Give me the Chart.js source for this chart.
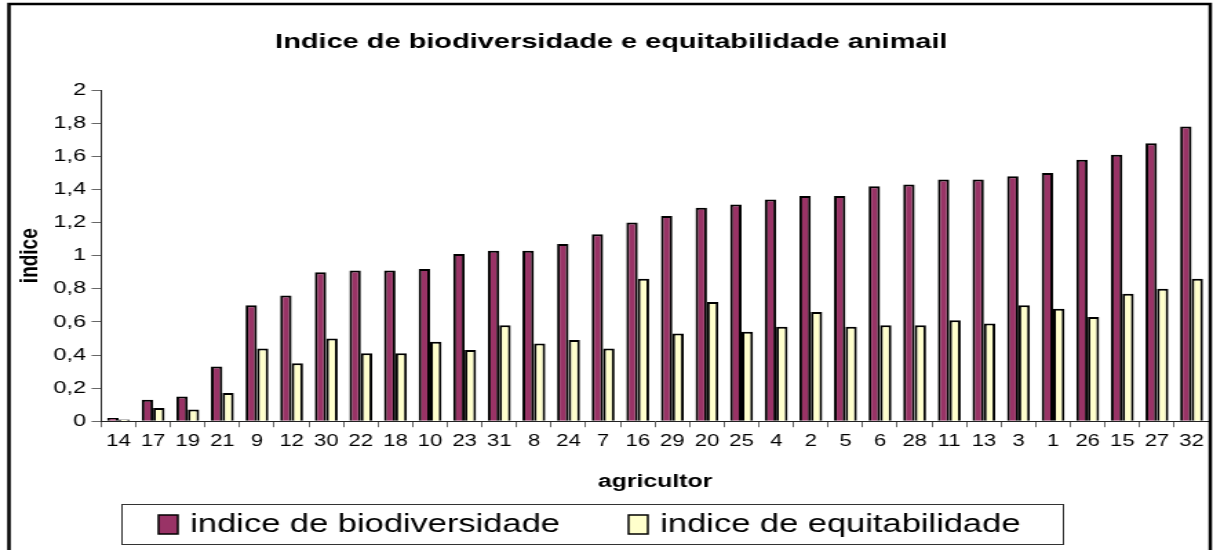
<!DOCTYPE html>
<html>
<head>
<meta charset="utf-8">
<script src="https://cdn.jsdelivr.net/npm/chart.js@4"></script>
<style>
    body { margin: 0; background: #fff; overflow: hidden; }
    /* the reference image is stretched horizontally, so draw narrow and stretch */
    #wrap { width: 880px; height: 550px; transform: scaleX(1.3784); transform-origin: 0 0; }
</style>
</head>
<body>
<div id="wrap"><canvas id="biodivChart" width="880" height="550"></canvas></div>
<script>
// agricultores, ordenados pelo indice de biodiversidade
const agricultores = ['14', '17', '19', '21', '9', '12', '30', '22', '18', '10', '23', '31', '8', '24', '7', '16',
    '29', '20', '25', '4', '2', '5', '6', '28', '11', '13', '3', '1', '26', '15', '27', '32'];

const biodiversidade = [0.02, 0.13, 0.15, 0.33, 0.70, 0.76, 0.90, 0.91, 0.91, 0.92, 1.01, 1.03, 1.03, 1.07, 1.13, 1.20,
    1.24, 1.29, 1.31, 1.34, 1.36, 1.36, 1.42, 1.43, 1.46, 1.46, 1.48, 1.50, 1.58, 1.61, 1.68, 1.78];

const equitabilidade = [0.01, 0.08, 0.07, 0.17, 0.44, 0.35, 0.50, 0.41, 0.41, 0.48, 0.43, 0.58, 0.47, 0.49, 0.44, 0.86,
    0.53, 0.72, 0.54, 0.57, 0.66, 0.57, 0.58, 0.58, 0.61, 0.59, 0.70, 0.68, 0.63, 0.77, 0.80, 0.86];

const yTicks = [0, 0.2, 0.4, 0.6, 0.8, 1, 1.2, 1.4, 1.6, 1.8, 2];

const FONT = 'Arial, "Liberation Sans", sans-serif';

// moldura externa + legenda em caixa (desenhada a mao, como no Excel)
const framePlugin = {
    id: 'framePlugin',
    afterDraw(chart) {
        const c = chart.ctx;
        c.save();
        c.strokeStyle = '#000';
        c.lineWidth = 2.5;
        c.strokeRect(6.5, 4, 871.5, 570);

        // legend box
        c.lineWidth = 1;
        c.strokeStyle = '#333';
        c.strokeRect(88.5, 504.5, 683, 40);

        const items = [
            { x: 115, textX: 138 },
            { x: 456, textX: 479 }
        ];
        c.font = '25px ' + FONT;
        c.textBaseline = 'middle';
        c.textAlign = 'left';
        chart.data.datasets.forEach((ds, i) => {
            const it = items[i];
            c.fillStyle = ds.backgroundColor;
            c.fillRect(it.x, 515, 14, 19);
            c.lineWidth = 1.5;
            c.strokeStyle = '#000';
            c.strokeRect(it.x, 515, 14, 19);
            c.fillStyle = '#000';
            c.fillText(ds.label, it.textX, 525);
        });
        c.restore();
    }
};

new Chart(document.getElementById('biodivChart'), {
    type: 'bar',
    data: {
        labels: agricultores,
        datasets: [{
            label: 'indice de biodiversidade',
            data: biodiversidade,
            backgroundColor: '#993366',
            borderColor: '#000',
            borderWidth: 2,
            categoryPercentage: 0.66,
            barPercentage: 1.0
        }, {
            label: 'indice de equitabilidade',
            data: equitabilidade,
            backgroundColor: '#FFFFCC',
            borderColor: '#000',
            borderWidth: 2,
            categoryPercentage: 0.66,
            barPercentage: 1.0
        }]
    },
    options: {
        responsive: false,
        animation: false,
        devicePixelRatio: 1,
        layout: {
            padding: { left: 10, right: 3, top: 8, bottom: 47 }
        },
        plugins: {
            title: {
                display: true,
                text: 'Indice de biodiversidade e equitabilidade animail',
                color: '#000',
                font: { family: FONT, size: 21, weight: 'bold' },
                padding: { top: 22, bottom: 35 }
            },
            legend: { display: false },
            tooltip: { enabled: false }
        },
        scales: {
            x: {
                ticks: {
                    color: '#000',
                    font: { family: FONT, size: 16 },
                    maxRotation: 0,
                    autoSkip: false,
                    padding: 5
                },
                grid: {
                    display: true,
                    drawOnChartArea: false,
                    tickLength: 6,
                    color: '#666'
                },
                border: { color: '#222', width: 1 },
                title: {
                    display: true,
                    text: 'agricultor',
                    color: '#000',
                    font: { family: FONT, size: 18, weight: 'bold' },
                    padding: { top: 15, bottom: 10 }
                }
            },
            y: {
                min: 0,
                max: 2,
                afterBuildTicks: (axis) => {
                    axis.ticks = yTicks.map(v => ({ value: v }));
                },
                ticks: {
                    color: '#000',
                    font: { family: FONT, size: 17 },
                    padding: 4,
                    callback: (value) => String(value).replace('.', ',')
                },
                grid: {
                    display: true,
                    drawOnChartArea: false,
                    tickLength: 7,
                    color: '#666'
                },
                border: { color: '#222', width: 1 },
                title: {
                    display: true,
                    text: 'indice',
                    color: '#000',
                    font: { family: FONT, size: 19, weight: 'bold' },
                    padding: { top: 0, bottom: 2 }
                }
            }
        }
    },
    plugins: [framePlugin]
});
</script>
</body>
</html>
